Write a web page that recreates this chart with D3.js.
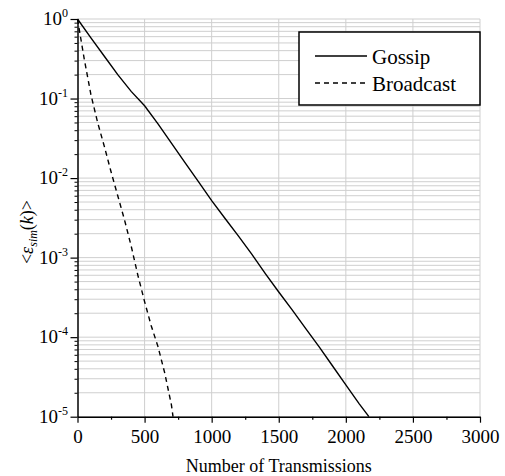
<!DOCTYPE html>
<html>
<head>
<meta charset="utf-8">
<script src="https://cdn.jsdelivr.net/npm/d3@7"></script>
<style>
  body { margin: 0; background: #fff; }
  text { font-family: "Liberation Serif", "Times New Roman", serif; fill: #000; }
</style>
</head>
<body>
<svg id="chart" width="505" height="476"></svg>
<script>
// data
var gossipX = [0, 100, 200, 300, 400, 500, 600, 700, 800, 900, 1000, 1100, 1200, 1300,
    1400, 1500, 1600, 1700, 1800, 1900, 2000, 2100, 2172];
var gossipY = [1, 0.58, 0.34, 0.20, 0.123, 0.081, 0.048, 0.0275, 0.0158, 0.0091, 0.0052,
    0.0031, 0.00186, 0.0011, 0.00063, 0.00037, 0.00022, 0.000129, 0.000076, 0.0000437,
    0.0000251, 0.0000145, 0.00001];
var broadcastX = [0, 50, 100, 150, 200, 250, 300, 350, 400, 450, 500, 550, 600, 650, 700, 712];
var broadcastY = [1, 0.316, 0.112, 0.050, 0.025, 0.012, 0.006, 0.003, 0.0014, 0.0006,
    0.00028, 0.000138, 0.000076, 0.0000355, 0.0000141, 0.00001];
var xTicks = [0, 500, 1000, 1500, 2000, 2500, 3000];
var xMinor = [250, 750, 1250, 1750, 2250, 2750];
var yTicks = [1, 1e-1, 1e-2, 1e-3, 1e-4, 1e-5];
var yExps = ['0', '-1', '-2', '-3', '-4', '-5'];
var seriesNames = ['Gossip', 'Broadcast'];

var svg = d3.select('#chart');
var pLeft = 77.5, pRight = 480, pTop = 19, pBottom = 416.7;

var x = d3.scaleLinear().domain([0, 3000]).range([pLeft, pRight]);
var y = d3.scaleLog().domain([1e-5, 1]).range([pBottom, pTop]);

// grid
var grid = svg.append('g').attr('stroke', '#cfcfcf').attr('stroke-width', 1);
grid.selectAll('line.h')
    .data(y.ticks())
    .enter().append('line')
    .attr('x1', pLeft).attr('x2', pRight)
    .attr('y1', function (d) { return y(d); })
    .attr('y2', function (d) { return y(d); });
grid.selectAll('line.v')
    .data(xTicks.slice(1))
    .enter().append('line')
    .attr('x1', function (d) { return x(d); })
    .attr('x2', function (d) { return x(d); })
    .attr('y1', pTop).attr('y2', pBottom);

// series
function drawSeries(xs, ys, dash) {
    var pts = xs.map(function (d, i) { return [d, ys[i]]; });
    var line = d3.line()
        .x(function (d) { return x(d[0]); })
        .y(function (d) { return y(d[1]); });
    svg.append('path')
        .datum(pts)
        .attr('d', line)
        .attr('fill', 'none')
        .attr('stroke', '#000')
        .attr('stroke-width', 1.4)
        .attr('stroke-dasharray', dash);
}
drawSeries(gossipX, gossipY, null);
drawSeries(broadcastX, broadcastY, '5,4');

// axes
function styleAxis(g) {
    g.select('.domain').attr('stroke', '#000').attr('stroke-width', 1.5);
    g.selectAll('.tick line').attr('stroke', '#000').attr('stroke-width', 1.2);
}

var xAxisMinor = svg.append('g')
    .attr('transform', 'translate(0,' + pBottom + ')')
    .call(d3.axisBottom(x).tickValues(xMinor).tickSize(3).tickFormat(''));
xAxisMinor.select('.domain').remove();
xAxisMinor.selectAll('.tick line').attr('stroke', '#000').attr('stroke-width', 1.2);

var xAxis = svg.append('g')
    .attr('transform', 'translate(0,' + pBottom + ')')
    .call(d3.axisBottom(x).tickValues(xTicks).tickSize(6).tickSizeOuter(0)
        .tickPadding(7).tickFormat(d3.format('d')));
styleAxis(xAxis);
xAxis.selectAll('.tick text')
    .style('font-family', '"Liberation Serif", serif')
    .style('font-size', '19px')
    .attr('fill', '#000');

var minorY = y.ticks().filter(function (d) { return yTicks.indexOf(d) < 0; });
var yAxisMinor = svg.append('g')
    .attr('transform', 'translate(' + pLeft + ',0)')
    .call(d3.axisLeft(y).tickValues(minorY).tickSize(3).tickFormat(''));
yAxisMinor.select('.domain').remove();
yAxisMinor.selectAll('.tick line').attr('stroke', '#000').attr('stroke-width', 1);

var yAxis = svg.append('g')
    .attr('transform', 'translate(' + pLeft + ',0)')
    .call(d3.axisLeft(y).tickValues(yTicks).tickSize(7).tickSizeOuter(0).tickFormat(''));
styleAxis(yAxis);

var yLab = svg.append('g').selectAll('text')
    .data(yTicks)
    .enter().append('text')
    .attr('x', 68)
    .attr('y', function (d) { return y(d) + 6; })
    .attr('text-anchor', 'end')
    .style('font-size', '19px');
yLab.append('tspan').text('10');
yLab.append('tspan')
    .attr('dy', -8)
    .style('font-size', '12px')
    .text(function (d, i) { return yExps[i]; });

// axis titles
svg.append('text')
    .attr('x', (pLeft + pRight) / 2)
    .attr('y', 472)
    .attr('text-anchor', 'middle')
    .style('font-size', '18px')
    .text('Number of Transmissions');

var yt = svg.append('text')
    .attr('transform', 'translate(33,232) rotate(-90)')
    .attr('text-anchor', 'middle')
    .style('font-size', '18px');
yt.append('tspan').text('<');
yt.append('tspan').style('font-style', 'italic').text('\u03b5');
yt.append('tspan').style('font-style', 'italic').style('font-size', '12px').attr('dy', 4).text('sim');
yt.append('tspan').attr('dy', -4).text('(');
yt.append('tspan').style('font-style', 'italic').text('k');
yt.append('tspan').text(')>');

// legend
var legend = svg.append('g');
legend.append('rect')
    .attr('x', 299).attr('y', 32)
    .attr('width', 181).attr('height', 73)
    .attr('fill', '#fff')
    .attr('stroke', '#000')
    .attr('stroke-width', 1.5);
var legRows = legend.selectAll('g.row')
    .data(seriesNames)
    .enter().append('g')
    .attr('transform', function (d, i) { return 'translate(0,' + (56 + i * 27) + ')'; });
legRows.append('line')
    .attr('x1', 315).attr('x2', 367)
    .attr('stroke', '#000')
    .attr('stroke-width', 1.4)
    .attr('stroke-dasharray', function (d, i) { return i ? '5,4' : null; });
legRows.append('text')
    .attr('x', 372)
    .attr('y', 8)
    .style('font-size', '21px')
    .text(function (d) { return d; });
</script>
</body>
</html>
